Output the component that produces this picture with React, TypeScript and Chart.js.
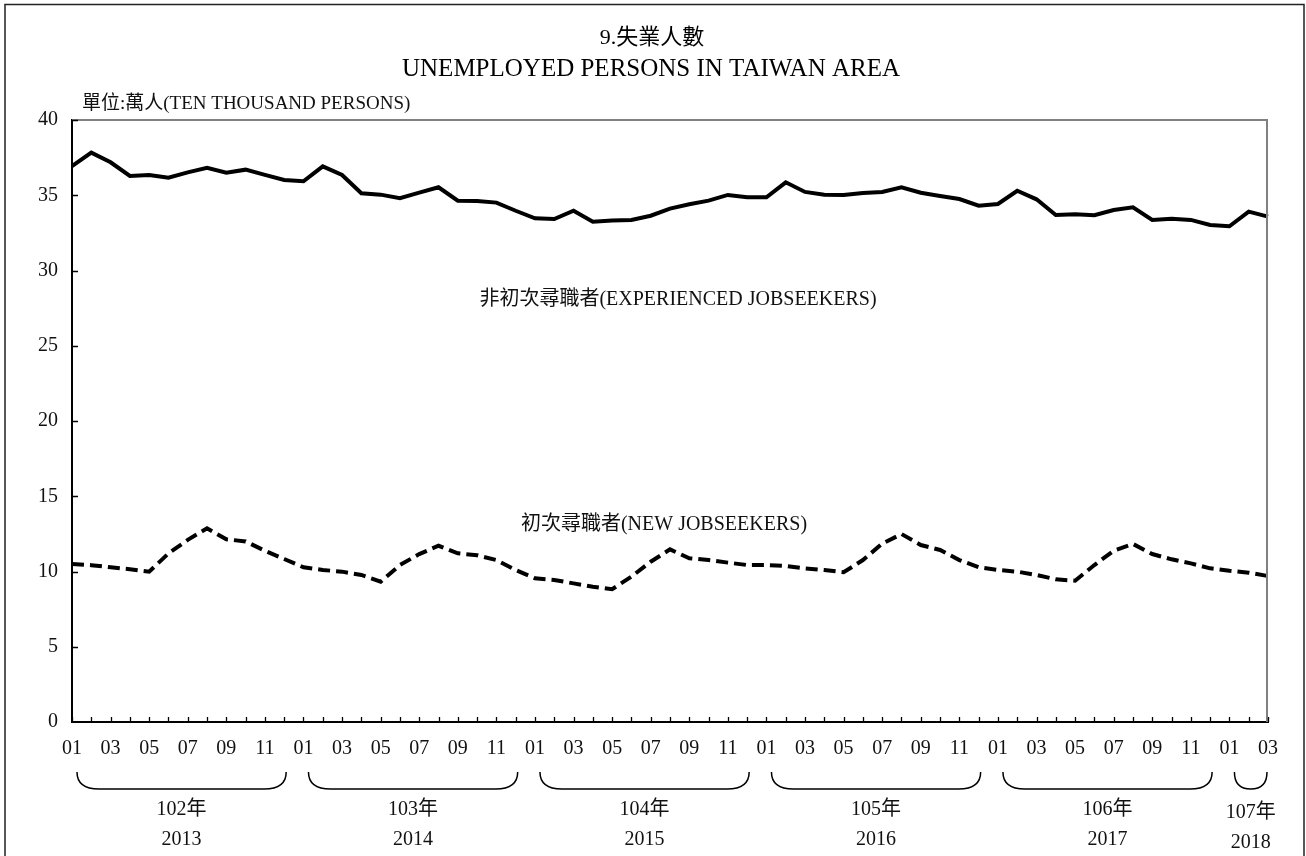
import React, { useEffect, useRef } from "react";
import { Chart, registerables } from "chart.js";

Chart.register(...registerables);

// ---------- data ----------
const months: string[] = [];
const yearsAD = [2013, 2014, 2015, 2016, 2017, 2018];
for (const y of yearsAD) {
  const n = y === 2018 ? 3 : 12;
  for (let m = 1; m <= n; m++) months.push(String(m).padStart(2, "0"));
}

const experienced = [
  36.94, 37.83, 37.19, 36.28, 36.35, 36.17, 36.52, 36.83, 36.5, 36.7, 36.35, 36.01,
  35.93, 36.92, 36.35, 35.13, 35.04, 34.8, 35.17, 35.53, 34.64, 34.62, 34.51, 33.97,
  33.47, 33.42, 33.97, 33.24, 33.33, 33.36, 33.64, 34.11, 34.4, 34.64, 35.02, 34.86,
  34.86, 35.86, 35.22, 35.04, 35.02, 35.15, 35.22, 35.53, 35.17, 34.95, 34.75, 34.31,
  34.42, 35.3, 34.73, 33.69, 33.73, 33.67, 34.02, 34.2, 33.36, 33.44, 33.36, 33.02,
  32.94, 33.91, 33.58,
];

const newSeekers = [
  10.5, 10.42, 10.28, 10.15, 9.99, 11.2, 12.1, 12.87, 12.14, 12.0, 11.38, 10.83,
  10.28, 10.1, 9.99, 9.77, 9.32, 10.43, 11.16, 11.71, 11.21, 11.08, 10.76, 10.1,
  9.55, 9.44, 9.21, 8.99, 8.82, 9.66, 10.65, 11.47, 10.88, 10.76, 10.59, 10.43,
  10.43, 10.37, 10.21, 10.1, 9.95, 10.76, 11.85, 12.49, 11.76, 11.43, 10.76, 10.28,
  10.1, 9.99, 9.77, 9.48, 9.39, 10.43, 11.38, 11.83, 11.16, 10.81, 10.54, 10.21,
  10.05, 9.92, 9.7,
];

const yearROC = ["102年", "103年", "104年", "105年", "106年", "107年"];
const yearStart = [0, 12, 24, 36, 48, 60];
const yearEnd = [11, 23, 35, 47, 59, 62];

const titleLines = ["9.失業人數", "UNEMPLOYED PERSONS IN TAIWAN AREA"];
const unitText = "單位:萬人(TEN THOUSAND PERSONS)";
const expLabel = "非初次尋職者(EXPERIENCED JOBSEEKERS)";
const newLabel = "初次尋職者(NEW JOBSEEKERS)";

const FONT = "'Liberation Serif', 'Times New Roman', 'Noto Sans CJK TC', serif";

const decorPlugin = {
  id: "decor",
  afterDraw(chart: any) {
    const { ctx, chartArea } = chart;
    const xs = chart.scales.x;
    const ys = chart.scales.y;
    const { left, right, top, bottom } = chartArea;
    ctx.save();

    // top & right frame (gray)
    ctx.strokeStyle = "#808080";
    ctx.lineWidth = 2;
    ctx.beginPath();
    ctx.moveTo(left, top);
    ctx.lineTo(right - 1, top);
    ctx.lineTo(right - 1, bottom);
    ctx.stroke();

    // inward ticks
    ctx.strokeStyle = "#000";
    ctx.lineWidth = 1.3;
    ctx.beginPath();
    for (let i = 0; i < months.length; i++) {
      const x = Math.round(xs.getPixelForValue(i)) + 0.5;
      ctx.moveTo(x, bottom);
      ctx.lineTo(x, bottom - 5);
    }
    for (let v = 5; v <= 40; v += 5) {
      const y = Math.round(ys.getPixelForValue(v)) + 0.5;
      ctx.moveTo(left, y);
      ctx.lineTo(left + 6, y);
    }
    ctx.stroke();

    // titles
    ctx.fillStyle = "#000";
    ctx.textAlign = "center";
    ctx.textBaseline = "middle";
    ctx.font = `22px ${FONT}`;
    ctx.fillText(titleLines[0], 652, 38);
    ctx.font = `25px ${FONT}`;
    ctx.fillText(titleLines[1], 651, 69);

    ctx.textAlign = "left";
    ctx.font = `19px ${FONT}`;
    ctx.fillStyle = "#111";
    ctx.fillText(unitText, 82, 104);

    ctx.textAlign = "center";
    ctx.font = `20px ${FONT}`;
    ctx.fillText(expLabel, 678, 300);
    ctx.fillText(newLabel, 664, 525);

    // year brackets
    ctx.strokeStyle = "#000";
    ctx.lineWidth = 1.5;
    const bTop = 772;
    const bBot = 789;
    for (let k = 0; k < yearROC.length; k++) {
      const x0 = xs.getPixelForValue(yearStart[k]) + 5;
      const x1 = xs.getPixelForValue(yearEnd[k]) + (k === yearROC.length - 1 ? -1 : 2);
      const r = Math.min(22, (x1 - x0) / 2);
      ctx.beginPath();
      ctx.moveTo(x0, bTop);
      ctx.quadraticCurveTo(x0, bBot, x0 + r, bBot);
      ctx.lineTo(x1 - r, bBot);
      ctx.quadraticCurveTo(x1, bBot, x1, bTop);
      ctx.stroke();
      const cx = (x0 + x1) / 2;
      ctx.font = `20px ${FONT}`;
      ctx.fillStyle = "#111";
      ctx.fillText(yearROC[k], cx, k === yearROC.length - 1 ? 813 : 810);
      ctx.fillText(String(yearsAD[k]), cx, k === yearROC.length - 1 ? 843 : 840);
    }

    // outer border
    ctx.strokeStyle = "#222";
    ctx.lineWidth = 1.5;
    ctx.strokeRect(5, 4.5, 1299, 870);

    ctx.restore();
  },
};

export default function App() {
  const ref = useRef<HTMLCanvasElement | null>(null);
  useEffect(() => {
    if (!ref.current) return;
    const chart = new Chart(ref.current, {
      type: "line",
      data: {
        labels: months,
        datasets: [
          {
            label: expLabel,
            data: experienced,
            borderColor: "#000",
            borderWidth: 4,
            pointRadius: 0,
            tension: 0,
            fill: false,
          },
          {
            label: newLabel,
            data: newSeekers,
            borderColor: "#000",
            borderWidth: 4,
            borderDash: [12, 6],
            pointRadius: 0,
            tension: 0,
            fill: false,
          },
        ],
      },
      options: {
        responsive: false,
        animation: false,
        layout: { padding: { top: 120, right: 38, left: 0, bottom: 0 } },
        plugins: {
          legend: { display: false },
          tooltip: { enabled: false },
          title: { display: false },
        },
        scales: {
          x: {
            type: "category",
            offset: false,
            grid: { display: false, drawTicks: false },
            border: { display: true, color: "#000", width: 2 },
            ticks: {
              autoSkip: false,
              maxRotation: 0,
              minRotation: 0,
              padding: 15,
              color: "#111",
              font: { size: 20, family: FONT },
              callback: (_v: any, i: number) => (i % 2 === 0 ? months[i] : ""),
            },
            afterFit: (s: any) => {
              s.height = 134;
            },
          },
          y: {
            min: 0,
            max: 40,
            grid: { display: false, drawTicks: false },
            border: { display: true, color: "#000", width: 2 },
            ticks: {
              stepSize: 5,
              padding: 14,
              color: "#111",
              font: { size: 20, family: FONT },
            },
            afterFit: (s: any) => {
              s.width = 72;
            },
          },
        },
      },
      plugins: [decorPlugin],
    });
    return () => chart.destroy();
  }, []);
  return (
    <canvas
      ref={ref}
      width={1306}
      height={856}
      style={{ position: "fixed", left: 0, top: 0, width: 1306, height: 856, background: "#fff" }}
    />
  );
}
